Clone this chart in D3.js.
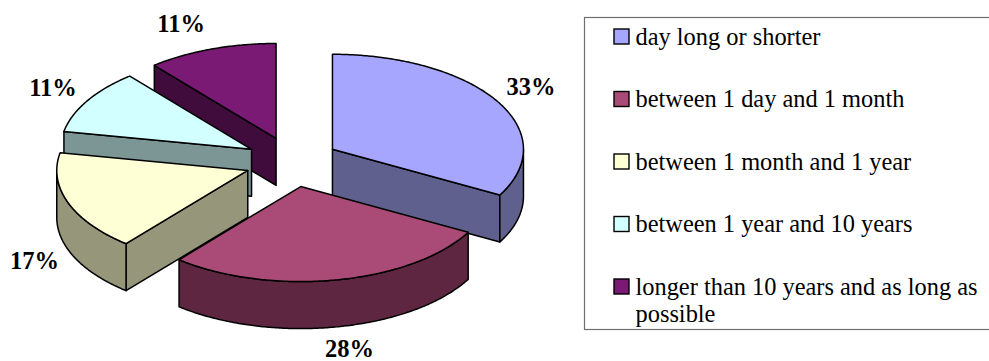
<!DOCTYPE html>
<html>
<head>
<meta charset="utf-8">
<script src="https://cdn.jsdelivr.net/npm/d3@7/dist/d3.min.js"></script>
<style>
  html, body { margin: 0; padding: 0; background: #fff; }
  svg { display: block; font-family: "Liberation Serif", serif; }
</style>
</head>
<body>
<svg id="chart" width="989" height="361"></svg>
<script>
// Shares of each duration class, in percent
const categories = [
  "day long or shorter",
  "between 1 day and 1 month",
  "between 1 month and 1 year",
  "between 1 year and 10 years",
  "longer than 10 years and as long as possible"
];
const shares = [33, 28, 17, 11, 11];
const topColors = ["#a6a6ff", "#a94b76", "#ffffd6", "#d2ffff", "#7b1a75"];
const wallColors = ["#60608f", "#5f2641", "#96967a", "#7c9696", "#3f0c3c"];

// Layout of the tilted, exploded pie
const pieCentre = { x: 292, y: 162 };
const radiusX = 191, radiusY = 95, depth = 47;
const explodeX = 47, explodeY = 25;
const labelReach = 1.22;
const labelNudge = [[-2, -3], [5, 2], [6, 4], [2, -2], [-16, -5]];

const svg = d3.select("#chart");
const line = d3.line();

const slices = d3.pie().sort(null).value(d => d)(shares).map((s, i) => {
  const mid = (s.startAngle + s.endAngle) / 2;
  return {
    ...s, i, mid,
    cx: pieCentre.x + explodeX * Math.sin(mid),
    cy: pieCentre.y - explodeY * Math.cos(mid)
  };
});

const rimPoint = (s, a, drop = 0) => [
  s.cx + radiusX * Math.sin(a),
  s.cy - radiusY * Math.cos(a) + drop
];

// Sample the rim between two angles (0 = 12 o'clock, clockwise)
function rim(s, a0, a1, drop = 0) {
  const n = Math.max(2, Math.ceil(Math.abs(a1 - a0) / 0.01));
  const t = d3.scaleLinear().domain([0, n]).range([a0, a1]);
  return d3.range(n + 1).map(k => rimPoint(s, t(k), drop));
}

const g = svg.append("g").attr("stroke", "#000").attr("stroke-width", 1.5)
  .attr("stroke-linejoin", "round");

// A flat side wall running from the slice centre out to the rim at angle a
function radialWall(s, a) {
  const p = rimPoint(s, a);
  g.append("path")
    .attr("d", line([[s.cx, s.cy], p, [p[0], p[1] + depth], [s.cx, s.cy + depth]]) + "Z")
    .attr("fill", wallColors[s.i]);
}

// The curved outer wall, only where the rim faces the viewer
function outerWall(s) {
  const a0 = Math.max(s.startAngle, Math.PI / 2);
  const a1 = Math.min(s.endAngle, Math.PI * 1.5);
  if (a1 <= a0) return;
  const pts = rim(s, a0, a1).concat(rim(s, a1, a0, depth));
  g.append("path").attr("d", line(pts) + "Z").attr("fill", wallColors[s.i]);
}

function topFace(s) {
  const pts = [[s.cx, s.cy]].concat(rim(s, s.startAngle, s.endAngle));
  g.append("path").attr("d", line(pts) + "Z").attr("fill", topColors[s.i]);
}

// Painted back to front so nearer slices cover farther ones
[4, 3, 2, 0, 1].forEach(i => {
  const s = slices[i];
  // Walls facing the viewer depend on which half of the ellipse the edge lies in
  if (i === 0) radialWall(s, s.endAngle);
  if (i === 2) radialWall(s, s.startAngle);
  if (i === 3 || i === 4) radialWall(s, s.startAngle);
  outerWall(s);
  topFace(s);
});

// Percentage labels
svg.append("g").selectAll("text").data(slices).join("text")
  .attr("text-anchor", "middle")
  .attr("font-size", 24.5)
  .attr("font-weight", "bold")
  .attr("fill", "#000")
  .attr("x", s => s.cx + radiusX * labelReach * Math.sin(s.mid) + labelNudge[s.i][0])
  .attr("y", s => {
    const below = Math.cos(s.mid) < 0 ? depth : 0;
    return s.cy - radiusY * labelReach * Math.cos(s.mid) + below + labelNudge[s.i][1] + 8;
  })
  .text(s => s.value + "%");

// Legend, its frame running off the right edge
const legendBox = { x: 584.5, y: 17.5, width: 420, height: 312 };
svg.append("rect").attr("x", legendBox.x).attr("y", legendBox.y)
  .attr("width", legendBox.width).attr("height", legendBox.height)
  .attr("fill", "#fff").attr("stroke", "#6e6e6e").attr("stroke-width", 1.2);

const rowY = d3.scalePoint().domain(d3.range(categories.length)).range([36.5, 286.5]);
const wrapped = categories.map(c =>
  c.startsWith("longer") ? ["longer than 10 years and as long as", "possible"] : [c]);

const rows = svg.append("g").selectAll("g").data(categories).join("g");
rows.append("rect")
  .attr("x", 614).attr("y", (d, i) => rowY(i) - 7.5)
  .attr("width", 15).attr("height", 15)
  .attr("fill", (d, i) => topColors[i])
  .attr("stroke", "#000").attr("stroke-width", 1.4);
rows.append("text")
  .attr("font-size", 24.4).attr("fill", "#000")
  .attr("y", (d, i) => rowY(i) + 8)
  .selectAll("tspan").data((d, i) => wrapped[i]).join("tspan")
  .attr("x", 635.5)
  .attr("dy", (d, k) => k ? 27 : 0)
  .text(d => d);
</script>
</body>
</html>
